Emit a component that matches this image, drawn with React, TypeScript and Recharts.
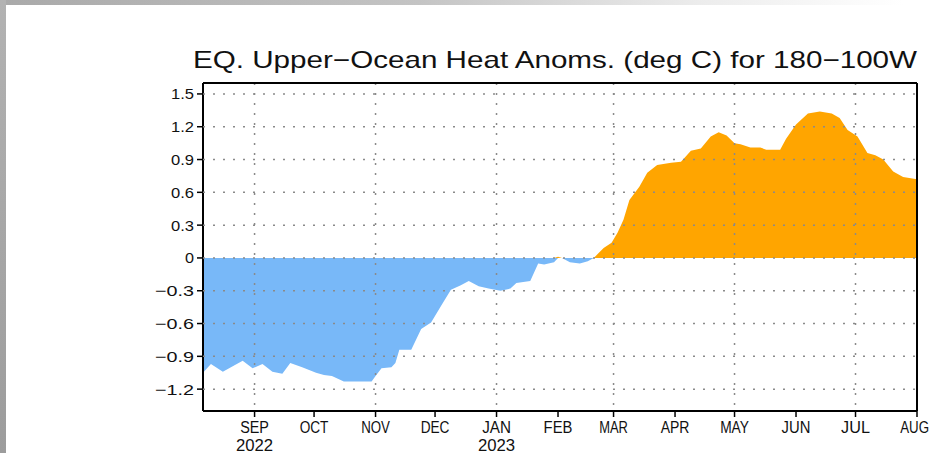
import React from 'react';
import { ComposedChart, Area, XAxis, YAxis, ReferenceLine, CartesianGrid } from 'recharts';

const dates = [
  '2022-08-06', '2022-08-10', '2022-08-16', '2022-08-21', '2022-08-26', '2022-08-31',
  '2022-09-05', '2022-09-10', '2022-09-15', '2022-09-19', '2022-09-25', '2022-10-02',
  '2022-10-06', '2022-10-10', '2022-10-16', '2022-10-30', '2022-11-01', '2022-11-04',
  '2022-11-09', '2022-11-11', '2022-11-13', '2022-11-19', '2022-11-24', '2022-11-29',
  '2022-12-04', '2022-12-09', '2022-12-14', '2022-12-18', '2022-12-23', '2022-12-28',
  '2023-01-03', '2023-01-08', '2023-01-11', '2023-01-18', '2023-01-22', '2023-01-25',
  '2023-01-30', '2023-02-01', '2023-02-03', '2023-02-07', '2023-02-12', '2023-02-16',
  '2023-02-19', '2023-02-24', '2023-02-28', '2023-03-03', '2023-03-06', '2023-03-09',
  '2023-03-14', '2023-03-18', '2023-03-23', '2023-03-30', '2023-04-04', '2023-04-09',
  '2023-04-14', '2023-04-19', '2023-04-23', '2023-04-27', '2023-05-01', '2023-05-04',
  '2023-05-09', '2023-05-14', '2023-05-17', '2023-05-24', '2023-05-27', '2023-06-01',
  '2023-06-07', '2023-06-13', '2023-06-19', '2023-06-23', '2023-06-27', '2023-07-02',
  '2023-07-07', '2023-07-11', '2023-07-15', '2023-07-20', '2023-07-25', '2023-08-01',
];

const anomalies = [
  -1.05, -0.97, -1.04, -0.99, -0.94, -1.01,
  -0.97, -1.04, -1.06, -0.96, -1.0, -1.05,
  -1.07, -1.08, -1.13, -1.13, -1.08, -1.01,
  -1.0, -0.96, -0.84, -0.84, -0.65, -0.59,
  -0.44, -0.29, -0.25, -0.21, -0.26, -0.28,
  -0.3, -0.28, -0.23, -0.21, -0.05, -0.06,
  -0.04, 0.01, 0.0, -0.04, -0.05, -0.03,
  0.0, 0.09, 0.14, 0.23, 0.35, 0.53,
  0.65, 0.78, 0.85, 0.87, 0.88, 0.98,
  1.0, 1.11, 1.15, 1.12, 1.05, 1.04,
  1.01, 1.01, 0.99, 0.99, 1.09, 1.22,
  1.32, 1.34, 1.32, 1.28, 1.17, 1.11,
  0.96, 0.94, 0.9, 0.79, 0.74, 0.72,
];

const monthTicks = [
  '2022-09-01', '2022-10-01', '2022-11-01', '2022-12-01', '2023-01-01', '2023-02-01',
  '2023-03-01', '2023-04-01', '2023-05-01', '2023-06-01', '2023-07-01', '2023-08-01',
];
const monthLabels = ['SEP', 'OCT', 'NOV', 'DEC', 'JAN', 'FEB', 'MAR', 'APR', 'MAY', 'JUN', 'JUL', 'AUG'];
const yearLabels = ['2022', '', '', '', '2023', '', '', '', '', '', '', ''];
const yTicks = [-1.2, -0.9, -0.6, -0.3, 0, 0.3, 0.6, 0.9, 1.2, 1.5];
const yDomain = [-1.4, 1.6];
const xStart = '2022-08-06';
const xEnd = '2023-08-01';
const title = 'EQ. Upper\u2212Ocean Heat Anoms. (deg C) for 180\u2212100W';

const toTime = (s: string) => {
  const [y, m, d] = s.split('-').map(Number);
  return Date.UTC(y, m - 1, d);
};

const data = dates.map((d, i) => ({
  t: toTime(d),
  pos: Math.max(anomalies[i], 0),
  neg: Math.min(anomalies[i], 0),
}));

const tickTimes = monthTicks.map(toTime);
const xDomain = [toTime(xStart), toTime(xEnd)];
const FONT = "'Liberation Sans', Arial, sans-serif";

const XTick = (props: any) => {
  const { x, y, payload } = props;
  const i = tickTimes.indexOf(payload.value);
  const m = monthLabels[i];
  const yr = yearLabels[i];
  const last = i === monthLabels.length - 1;
  return (
    <g>
      <text
        x={last ? x + 12 : x}
        y={y + 14}
        textAnchor={last ? 'end' : 'middle'}
        fontFamily={FONT}
        fontSize={16}
        fill="#111"
        textLength={m.length * 9.6}
        lengthAdjust="spacingAndGlyphs"
      >
        {m}
      </text>
      {yr ? (
        <text
          x={x}
          y={y + 32}
          textAnchor="middle"
          fontFamily={FONT}
          fontSize={16}
          fill="#111"
          textLength={yr.length * 9.3}
          lengthAdjust="spacingAndGlyphs"
        >
          {yr}
        </text>
      ) : null}
    </g>
  );
};

const fmtY = (v: number) => (v === 0 ? '0' : v.toFixed(1).replace('-', '\u2212'));
const charW = (c: string) => (c === '\u2212' ? 16 : c === '.' ? 5 : 9);

const YTick = (props: any) => {
  const { x, y, payload } = props;
  const s = fmtY(payload.value);
  const w = s.split('').reduce((a, c) => a + charW(c), 0);
  return (
    <text
      x={x}
      y={y + 5.5}
      textAnchor="end"
      fontFamily={FONT}
      fontSize={15}
      fill="#111"
      textLength={w}
      lengthAdjust="spacingAndGlyphs"
    >
      {s}
    </text>
  );
};

export default function App() {
  return (
    <div style={{ position: 'fixed', left: 0, top: 0, width: 931, height: 453, background: '#fff' }}>
      <div
        style={{
          position: 'absolute', left: 0, top: 0, width: 931, height: 5,
          background: 'linear-gradient(to right, #a9a9a9, #c4c4c4 45%, #ececec 75%, #ffffff 97%)',
        }}
      />
      <div
        style={{
          position: 'absolute', left: 0, top: 0, width: 6, height: 453,
          background: 'linear-gradient(to bottom, #b2b2b2, #9c9c9c)',
        }}
      />
      <div style={{ position: 'absolute', left: 0, top: 0, zIndex: 1 }}>
        <ComposedChart width={931} height={453} data={data} margin={{ top: 83, right: 14, bottom: 0, left: 143 }}>
          <XAxis
            dataKey="t"
            type="number"
            scale="time"
            domain={xDomain}
            ticks={tickTimes}
            interval={0}
            tick={<XTick />}
            tickSize={6}
            tickLine={{ stroke: '#000', strokeWidth: 1.5 }}
            axisLine={{ stroke: '#000', strokeWidth: 2 }}
            height={42}
            allowDataOverflow
          />
          <YAxis
            type="number"
            domain={yDomain}
            ticks={yTicks}
            tickSize={6}
            tickMargin={3}
            interval={0}
            tick={<YTick />}
            tickLine={{ stroke: '#000', strokeWidth: 1.5 }}
            axisLine={{ stroke: '#000', strokeWidth: 2 }}
            width={60}
            allowDataOverflow
          />
          <Area
            dataKey="neg"
            type="linear"
            baseValue={0}
            fill="#78b8f8"
            fillOpacity={1}
            stroke="none"
            isAnimationActive={false}
            dot={false}
            activeDot={false}
          />
          <Area
            dataKey="pos"
            type="linear"
            baseValue={0}
            fill="#ffa500"
            fillOpacity={1}
            stroke="none"
            isAnimationActive={false}
            dot={false}
            activeDot={false}
          />
          <text
            x={193}
            y={68}
            textLength={724}
            lengthAdjust="spacingAndGlyphs"
            fontSize={24}
            fontFamily={FONT}
            fill="#111"
          >
            {title}
          </text>
        </ComposedChart>
      </div>
      <div style={{ position: 'absolute', left: 0, top: 0, zIndex: 2, pointerEvents: 'none' }}>
        <ComposedChart width={931} height={453} data={data} margin={{ top: 83, right: 14, bottom: 42, left: 203 }}>
          <XAxis dataKey="t" type="number" domain={xDomain} hide allowDataOverflow />
          <YAxis type="number" domain={yDomain} hide allowDataOverflow />
          <CartesianGrid
            stroke="#8a8a8a"
            strokeDasharray="2 8"
            strokeWidth={1.5}
            fill="none"
            horizontalValues={yTicks}
            verticalValues={tickTimes.slice(0, -1)}
          />
          <ReferenceLine y={yDomain[1]} stroke="#000" strokeWidth={2} />
          <ReferenceLine x={xDomain[1]} stroke="#000" strokeWidth={2} />
        </ComposedChart>
      </div>
    </div>
  );
}
